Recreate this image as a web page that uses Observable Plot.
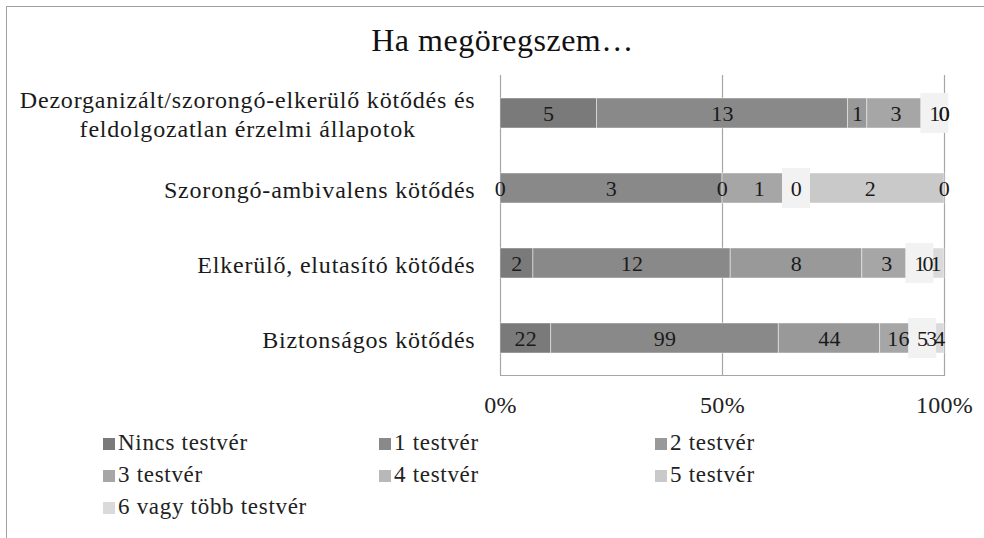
<!DOCTYPE html>
<html><head><meta charset="utf-8">
<script src="https://cdn.jsdelivr.net/npm/d3@7"></script>
<script src="https://cdn.jsdelivr.net/npm/@observablehq/plot@0.6"></script>
<style>
html,body{margin:0;padding:0;background:#fff;overflow:hidden;}
body{font-family:'Liberation Serif','DejaVu Serif',serif;color:#222;width:984px;height:538px;position:relative;}
#frame{position:absolute;left:6px;top:6px;width:1000px;height:600px;border-left:1.5px solid #a0a0a0;border-top:1.5px solid #a0a0a0;}
#title{position:absolute;left:0;top:21px;width:1005px;text-align:center;font-size:32px;line-height:38px;letter-spacing:0.5px;color:#111;}
#chart{position:absolute;left:0;top:60px;}
.lg{position:absolute;font-size:23px;line-height:26px;letter-spacing:0.7px;white-space:nowrap;color:#222;}
.lg span.sw{display:inline-block;width:12px;height:12px;margin-right:3px;vertical-align:0px;}
#measure{position:absolute;visibility:hidden;white-space:pre;font-size:24px;letter-spacing:0.8px;}
</style>
</head><body>
<div id="frame"></div>
<div id="title">Ha megöregszem…</div>
<div id="chart"></div>
<div id="legend"></div>
<span id="measure"></span>
<script>
const categories = [
  "Dezorganizált/szorongó-elkerülő kötődés és\nfeldolgozatlan érzelmi állapotok",
  "Szorongó-ambivalens kötődés",
  "Elkerülő, elutasító kötődés",
  "Biztonságos kötődés"
];
const series = ["Nincs testvér","1 testvér","2 testvér","3 testvér","4 testvér","5 testvér","6 vagy több testvér"];
const nincsTestver = [5, 0, 2, 22];
const egyTestver = [13, 3, 12, 99];
const kettoTestver = [1, 0, 8, 44];
const haromTestver = [3, 1, 3, 16];
const negyTestver = [1, 0, 1, 5];
const otTestver = [0, 2, 0, 3];
const hatVagyTobbTestver = [0, 0, 1, 4];
const xTicks = [0, 0.5, 1];
const colors = ["#7a7a7a","#898989","#999999","#a6a6a6","#b8b8b8","#c9c9c9","#dadada"];

const seriesValues = [nincsTestver, egyTestver, kettoTestver, haromTestver, negyTestver, otTestver, hatVagyTobbTestver];
const rows = categories.flatMap((c, j) => {
  const tot = d3.sum(seriesValues, v => v[j]);
  let acc = 0;
  return seriesValues.map((v, i) => {
    const x1 = acc / tot; acc += v[j]; const x2 = acc / tot;
    return {cat: c, series: series[i], value: v[j], x1, x2, mid: (x1 + x2) / 2};
  });
});

// measure widest line of each category label (for centred, right-aligned label blocks)
const meas = document.getElementById("measure");
const labelWidth = c => d3.max(c.split("\n"), line => { meas.textContent = line; return meas.getBoundingClientRect().width; });
const catLabels = categories.map(c => ({cat: c, half: labelWidth(c) / 2}));

const FONT = "'Liberation Serif','DejaVu Serif',serif";
const chart = Plot.plot({
  width: 984, height: 365,
  marginLeft: 500, marginRight: 40, marginTop: 15, marginBottom: 50,
  style: {fontFamily: FONT, fontSize: "24px", color: "#222", background: "transparent", letterSpacing: "0.3px"},
  x: {domain: [0, 1], ticks: xTicks, tickFormat: d => Math.round(d * 100) + "%", tickSize: 0, tickPadding: 20, label: null},
  y: {domain: categories, paddingInner: 0.6, paddingOuter: 0.3, axis: null},
  color: {domain: series, range: colors},
  marks: [
    Plot.ruleX(xTicks, {stroke: "#a6a6a6", strokeWidth: 1.2}),
    Plot.frame({anchor: "bottom", stroke: "#a6a6a6", strokeWidth: 1.2}),
    Plot.barX(rows, {x1: "x1", x2: "x2", y: "cat", fill: "series", stroke: "#ffffff", strokeOpacity: 0.45, strokeWidth: 1}),
    Plot.barX(rows.filter(d => d.series === "4 testvér"), {x1: "mid", x2: "mid", y: "cat", fill: "#f2f2f2", insetLeft: -14, insetRight: -14, insetTop: -5, insetBottom: -5}),
    Plot.text(rows, {x: "mid", y: "cat", text: "value", fill: "#1a1a1a", fontSize: 22}),
    ...catLabels.map(l => Plot.text([l], {y: "cat", text: "cat", frameAnchor: "left", textAnchor: "middle", dx: -25 - l.half, lineHeight: 1.21, fill: "#1a1a1a", fontSize: 24, style: "letter-spacing:0.8px"}))
  ]
});
chart.querySelectorAll("g[aria-label=text]").forEach(g => {
  if (g.getAttribute("font-size") === "24") g.style.letterSpacing = "0.8px";
});
document.getElementById("chart").appendChild(chart);

const legend = document.getElementById("legend");
const colX = [103, 379, 655];
const rowY = [430, 462, 494];
series.forEach((s, i) => {
  const d = document.createElement("div");
  d.className = "lg";
  d.style.left = colX[i % 3] + "px";
  d.style.top = rowY[Math.floor(i / 3)] + "px";
  d.innerHTML = `<span class="sw" style="background:${colors[i]}"></span>${s}`;
  legend.appendChild(d);
});
</script>
</body></html>
